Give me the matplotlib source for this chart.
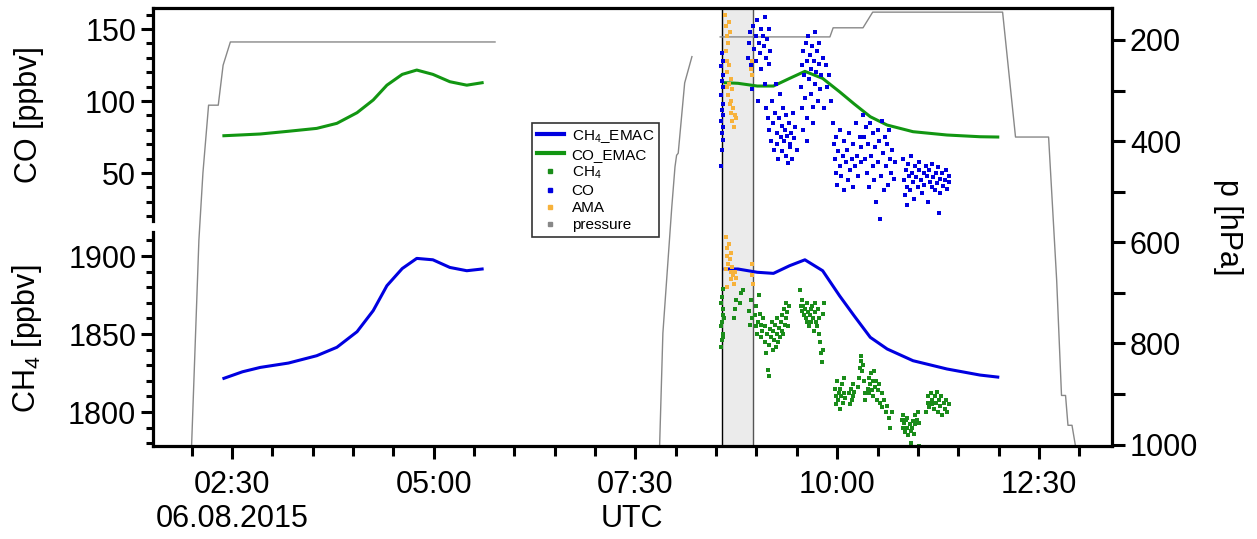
import matplotlib

matplotlib.use("Agg")
import matplotlib.pyplot as plt
from matplotlib.lines import Line2D
from matplotlib.ticker import MultipleLocator

plt.rcParams["font.family"] = ["Liberation Sans", "DejaVu Sans"]
plt.rcParams["mathtext.default"] = "regular"

NAN = float("nan")

# EMAC model curves (time in hours UTC)
emac_time_1 = [2.40, 2.63, 2.85, 3.20, 3.55, 3.80, 4.05, 4.25, 4.42, 4.61, 4.79, 4.99, 5.20, 5.41, 5.60]
co_emac_1 = [75.9, 76.5, 77.1, 79.0, 81.0, 84.5, 91.9, 100.7, 111.0, 118.5, 121.5, 118.5, 113.4, 111.0, 112.7]
ch4_emac_1 = [1821.6, 1825.8, 1828.6, 1831.4, 1836.1, 1841.5, 1851.5, 1865.0, 1881.0, 1892.0, 1898.5, 1897.6, 1892.7, 1890.6, 1891.7]

emac_time_2 = [8.61, 8.77, 9.01, 9.21, 9.41, 9.60, 9.82, 10.03, 10.21, 10.41, 10.62, 10.94, 11.36, 11.77, 11.99]
co_emac_2 = [112.7, 112.3, 110.4, 110.4, 115.7, 120.6, 115.7, 106.4, 98.0, 89.1, 83.3, 78.7, 76.4, 75.2, 75.0]
ch4_emac_2 = [1891.7, 1891.7, 1889.6, 1888.9, 1893.8, 1897.6, 1890.6, 1874.5, 1861.7, 1847.9, 1840.4, 1832.9, 1827.6, 1823.7, 1822.4]

# aircraft pressure (NaN = data gap)
p_time = [2.00, 2.09, 2.14, 2.21, 2.33, 2.39, 2.48, 5.76, NAN,
          7.80, 7.84, 7.95, 7.99, 8.01, 8.03, 8.11, 8.20, NAN,
          8.55, 9.91, 9.95, 10.32, 10.44, 12.05, 12.21, 12.62, 12.72, 12.78, 12.83, 12.86, 12.91, 12.95]
p_hpa = [1000, 596, 463, 329, 329, 250, 204, 204, NAN,
         1000, 780, 531, 451, 428, 424, 285, 233, NAN,
         194, 194, 176, 176, 145, 145, 392, 392, 675, 903, 903, 962, 962, 1000]

# in-situ CO (ppbv)
co_time = [
    8.56, 8.57, 8.58, 8.57, 8.59, 8.56, 8.58, 8.57, 8.59, 8.56, 8.58, 8.57, 8.59, 8.56, 8.58, 8.57,
    8.90, 8.91, 8.92, 8.93, 8.94, 8.95, 8.96, 8.97, 8.99, 9.00, 9.01, 9.02, 9.03, 9.04, 9.05, 9.06,
    9.08, 9.09, 9.10, 9.11, 9.12, 9.13, 9.15, 9.16, 9.17,
    9.12, 9.14, 9.16, 9.18, 9.19, 9.20, 9.22, 9.23, 9.24, 9.25, 9.26, 9.27, 9.28, 9.29, 9.30, 9.31,
    9.32, 9.33, 9.34, 9.35, 9.36, 9.37, 9.38, 9.39, 9.40, 9.41, 9.42, 9.43, 9.44, 9.45, 9.47, 9.48, 9.50,
    9.55, 9.56, 9.57, 9.58, 9.58, 9.59, 9.60, 9.61, 9.62, 9.62, 9.63, 9.64, 9.65, 9.66, 9.67, 9.68,
    9.69, 9.70, 9.70, 9.71, 9.72, 9.73, 9.74, 9.75, 9.76, 9.77, 9.78, 9.79, 9.80, 9.82, 9.84, 9.86,
    9.88, 9.90, 9.92,
    9.95, 9.96, 9.97, 9.98, 9.99, 10.00, 10.01, 10.03, 10.04, 10.05, 10.07, 10.08, 10.09, 10.11,
    10.12, 10.13, 10.15, 10.16, 10.18, 10.19, 10.20, 10.22, 10.23, 10.25, 10.26, 10.28, 10.29, 10.30,
    10.32, 10.33, 10.35, 10.36, 10.37, 10.38, 10.40, 10.41, 10.42, 10.44, 10.45, 10.46, 10.47, 10.48,
    10.50, 10.51, 10.52, 10.53, 10.54, 10.55, 10.57, 10.58, 10.59, 10.60, 10.62, 10.63, 10.64, 10.65,
    10.67, 10.68, 10.70, 10.72,
    10.82, 10.83, 10.84, 10.85, 10.86, 10.87, 10.88, 10.89, 10.90, 10.92, 10.93, 10.94, 10.95, 10.97,
    10.98, 11.00, 11.01, 11.02, 11.04, 11.05, 11.07, 11.08, 11.10, 11.11, 11.12, 11.14, 11.15, 11.17,
    11.18, 11.19, 11.21, 11.22, 11.24, 11.25, 11.26, 11.27, 11.28, 11.30, 11.31, 11.33, 11.35, 11.36,
    11.38, 11.39,
]
co_ppbv = [
    55, 66, 73, 78, 82, 86, 90, 94, 98, 104, 110, 114, 118, 124, 128, 133,
    130, 140, 148, 125, 108, 118, 152, 136, 145, 128, 156, 100, 140, 133, 150, 122,
    145, 138, 158, 112, 130, 143, 126, 150, 135,
    95, 88, 80, 72, 100, 85, 66, 92, 112, 78, 70, 60, 88, 105, 75, 83,
    65, 95, 72, 80, 62, 90, 76, 57, 85, 70, 68, 78, 60, 92, 74, 82, 66,
    110, 125, 95, 135, 80, 118, 102, 140, 128, 72, 88, 145, 115, 132, 105, 122,
    138, 96, 85, 128, 112, 148, 120, 135, 100, 126, 140, 108, 118, 130, 95, 125,
    110, 118, 100,
    85, 70, 60, 50, 75, 42, 65, 55, 80, 48, 62, 38, 72, 58,
    66, 45, 78, 52, 60, 40, 70, 55, 85, 62, 48, 75, 58, 68,
    90, 75, 60, 82, 50, 70, 40, 85, 62, 55, 78, 45, 68, 30,
    80, 58, 72, 18, 48, 86, 64, 38, 75, 55, 70, 42, 80, 60,
    50, 66, 46, 58,
    60, 45, 35, 52, 28, 40, 56, 48, 38, 62, 50, 44, 32, 55,
    47, 40, 58, 52, 45, 36, 50, 42, 55, 48, 30, 52, 44, 40,
    56, 47, 38, 50, 43, 54, 22, 36, 46, 50, 41, 45, 52, 39,
    48, 44,
]

# in-situ CH4 (ppbv)
ch4_time = [
    8.56, 8.57, 8.58, 8.56, 8.57, 8.59, 8.58, 8.56, 8.57, 8.58, 8.59, 8.60,
    8.72, 8.73, 8.74, 8.80, 8.81, 8.83, 8.91, 8.92, 8.93, 8.95,
    8.98, 8.99, 9.00, 9.01, 9.02, 9.03, 9.04, 9.05, 9.06, 9.07, 9.08, 9.10, 9.11, 9.12,
    9.13, 9.14, 9.15, 9.16, 9.17, 9.18, 9.19, 9.20, 9.21, 9.22, 9.23, 9.24, 9.25, 9.26,
    9.27, 9.28, 9.29, 9.30, 9.31, 9.32, 9.33, 9.34, 9.35, 9.36, 9.37, 9.38, 9.39, 9.40,
    9.54, 9.55, 9.56, 9.57, 9.58, 9.59, 9.60, 9.61, 9.62, 9.63, 9.64, 9.65, 9.66, 9.67,
    9.68, 9.69, 9.70, 9.71, 9.72, 9.73, 9.74, 9.75, 9.76, 9.77, 9.78, 9.79, 9.80, 9.81,
    9.82, 9.83, 9.84,
    9.97, 9.98, 9.99, 10.00, 10.01, 10.02, 10.03, 10.04, 10.05, 10.06, 10.07, 10.08, 10.09,
    10.10, 10.15, 10.16, 10.17, 10.18, 10.19, 10.20, 10.21,
    10.26, 10.27, 10.28, 10.29, 10.30, 10.31, 10.32, 10.33, 10.34, 10.35,
    10.38, 10.39, 10.40, 10.41, 10.42, 10.43, 10.44, 10.45, 10.46, 10.47, 10.48, 10.49,
    10.50, 10.52, 10.53, 10.55, 10.56, 10.58, 10.60, 10.62, 10.64, 10.66, 10.68,
    10.80, 10.81, 10.82, 10.83, 10.84, 10.85, 10.86, 10.87, 10.88, 10.90, 10.91, 10.92,
    10.93, 10.94, 10.95, 10.96, 10.97, 10.99, 11.00, 11.01, 11.02,
    11.10, 11.12, 11.13, 11.14, 11.16, 11.17, 11.18, 11.20, 11.21, 11.22, 11.24, 11.25,
    11.26, 11.28, 11.29, 11.30, 11.32, 11.33, 11.35, 11.36, 11.38,
]
ch4_ppbv = [
    1842, 1846, 1850, 1855, 1858, 1862, 1866, 1870, 1874, 1879, 1848, 1860,
    1860, 1866, 1872, 1870, 1876, 1878, 1865, 1856, 1872, 1860,
    1862, 1855, 1868, 1850, 1858, 1875, 1863, 1848, 1856, 1852, 1860, 1845, 1855, 1838,
    1850, 1827, 1823, 1843, 1853, 1848, 1858, 1840, 1852, 1846, 1856, 1842, 1850, 1860,
    1845, 1854, 1848, 1858, 1852, 1862, 1850, 1866, 1856, 1870, 1860, 1864, 1855, 1868,
    1878, 1868, 1872, 1865, 1868, 1862, 1866, 1860, 1870, 1858, 1864, 1855, 1862, 1866,
    1858, 1868, 1860, 1852, 1864, 1870, 1858, 1855, 1866, 1860, 1850, 1845, 1838, 1832,
    1840, 1863, 1870,
    1815, 1805, 1810, 1820, 1808, 1812, 1802, 1815, 1810, 1818, 1806, 1812, 1822,
    1809, 1812, 1805, 1815, 1808, 1818, 1810, 1813,
    1816, 1822, 1828, 1833, 1836, 1826, 1830, 1820, 1812, 1808,
    1815, 1822, 1812, 1818, 1825, 1814, 1820, 1810, 1826, 1816, 1820, 1808,
    1814, 1818, 1806, 1812, 1803, 1808, 1800, 1804, 1796, 1790, 1800,
    1795, 1790, 1798, 1793, 1787, 1795, 1790, 1796, 1785, 1792, 1788, 1780,
    1790, 1794, 1786, 1792, 1798, 1795, 1800, 1793, 1778,
    1800, 1806, 1810, 1803, 1812, 1805, 1808, 1802, 1810, 1806, 1813, 1800,
    1808, 1804, 1810, 1798, 1806, 1802, 1808, 1800, 1805,
]

# AMA instrument
ama_co_time = [8.61, 8.62, 8.63, 8.62, 8.64, 8.63, 8.65, 8.66, 8.64, 8.65, 8.66, 8.67, 8.68,
               8.69, 8.70, 8.71, 8.72, 8.73, 8.74, 8.70, 8.68, 8.93, 8.94, 8.95, 8.66, 8.67]
ama_co = [160, 152, 145, 135, 128, 120, 140, 125, 110, 104, 112, 98, 92,
          100, 86, 95, 82, 90, 88, 108, 115, 122, 128, 118, 155, 148]
ama_ch4_time = [8.62, 8.63, 8.64, 8.65, 8.66, 8.67, 8.68, 8.69, 8.70, 8.71, 8.72, 8.73,
                8.74, 8.64, 8.94, 8.95, 8.96, 8.68, 8.62]
ama_ch4 = [1912, 1905, 1900, 1895, 1908, 1898, 1890, 1885, 1893, 1888, 1882, 1890,
           1886, 1880, 1895, 1888, 1882, 1902, 1892]

shade_start, shade_end = 8.57, 8.96
x_ticks = [2.5, 5.0, 7.5, 10.0, 12.5]
x_ticklabels = ["02:30\n06.08.2015", "05:00", "07:30", "10:00", "12:30"]

BLUE = "#0000e0"
GREEN = "#129612"
ORANGE = "#f7b23b"
GRAY = "#888888"
FS = 22
MS = 2.8

fig = plt.figure(figsize=(12.57, 5.39), dpi=100)
left, width = 0.1217, 0.7629
ax_p = fig.add_axes([left, 0.1725, width, 0.8125])
ax_co = fig.add_axes([left, 0.5900, width, 0.3952])
ax_ch4 = fig.add_axes([left, 0.1725, width, 0.3970])

xlim = (1.521, 13.405)
for ax in (ax_p, ax_co, ax_ch4):
    ax.set_xlim(*xlim)
    for s in ax.spines.values():
        s.set_linewidth(2.3)

# pressure axis (background, full box)
ax_p.axvspan(shade_start, shade_end, color="#ebebeb", lw=0, zorder=0)
ax_p.axvline(shade_start, color="black", lw=1.0, zorder=1)
ax_p.axvline(shade_end, color="#555555", lw=1.0, zorder=1)
ax_p.plot(p_time, p_hpa, color=GRAY, lw=1.0, zorder=2)
ax_p.set_ylim(1003, 137)
ax_p.spines["left"].set_visible(False)
ax_p.spines["bottom"].set_visible(False)
ax_p.yaxis.tick_right()
ax_p.yaxis.set_label_position("right")
ax_p.set_yticks([200, 400, 600, 800, 1000])
ax_p.yaxis.set_minor_locator(MultipleLocator(100))
ax_p.set_xticks([])
ax_p.tick_params(axis="y", which="major", direction="out", length=9, width=2.2, labelsize=FS, pad=4)
ax_p.tick_params(axis="y", which="minor", direction="out", length=9, width=2.2)
ax_p.set_ylabel("p [hPa]", fontsize=FS, rotation=270, va="center", ha="center")
ax_p.yaxis.set_label_coords(1.121, 0.5)

# CO panel
ax_co.patch.set_visible(False)
ax_co.plot(emac_time_1, co_emac_1, color=GREEN, lw=2.2)
ax_co.plot(emac_time_2, co_emac_2, color=GREEN, lw=2.2)
ax_co.plot(co_time, co_ppbv, "s", color=BLUE, ms=MS, mew=0)
ax_co.plot(ama_co_time, ama_co, "s", color=ORANGE, ms=MS, mew=0)
ax_co.set_ylim(16.7, 164.6)
for side in ("top", "right", "bottom"):
    ax_co.spines[side].set_visible(False)
ax_co.set_xticks([])
ax_co.set_yticks([50, 100, 150])
ax_co.yaxis.set_minor_locator(MultipleLocator(10))
ax_co.set_ylabel("CO [ppbv]", fontsize=FS)
ax_co.yaxis.set_label_coords(-0.114, 0.5)

# CH4 panel
ax_ch4.patch.set_visible(False)
ax_ch4.plot(emac_time_1, ch4_emac_1, color=BLUE, lw=2.2)
ax_ch4.plot(emac_time_2, ch4_emac_2, color=BLUE, lw=2.2)
ax_ch4.plot(ch4_time, ch4_ppbv, "s", color="#1a8c1a", ms=MS, mew=0)
ax_ch4.plot(ama_ch4_time, ama_ch4, "s", color=ORANGE, ms=MS, mew=0)
ax_ch4.set_ylim(1778.2, 1915.4)
for side in ("top", "right"):
    ax_ch4.spines[side].set_visible(False)
ax_ch4.set_yticks([1800, 1850, 1900])
ax_ch4.yaxis.set_minor_locator(MultipleLocator(10))
ax_ch4.set_xticks(x_ticks)
ax_ch4.set_xticklabels(x_ticklabels)
ax_ch4.xaxis.set_minor_locator(MultipleLocator(0.5))
ax_ch4.set_ylabel("CH$_4$ [ppbv]", fontsize=FS)
ax_ch4.yaxis.set_label_coords(-0.114, 0.5)
ax_ch4.tick_params(axis="x", which="major", direction="out", length=9, width=2.2, labelsize=FS, pad=8)
ax_ch4.tick_params(axis="x", which="minor", direction="out", length=7, width=2.2)

for ax in (ax_co, ax_ch4):
    ax.tick_params(axis="y", which="major", direction="out", length=9, width=2.2, labelsize=FS, pad=3)
    ax.tick_params(axis="y", which="minor", direction="out", length=5, width=2.2)

fig.text(0.503, 0.037, "UTC", ha="center", va="center", fontsize=FS)

handles = [
    Line2D([], [], color=BLUE, lw=3),
    Line2D([], [], color=GREEN, lw=3),
    Line2D([], [], color="#1a8c1a", marker="s", ls="none", ms=3),
    Line2D([], [], color=BLUE, marker="s", ls="none", ms=3),
    Line2D([], [], color=ORANGE, marker="s", ls="none", ms=3),
    Line2D([], [], color=GRAY, marker="s", ls="none", ms=3),
]
labels = ["CH$_4$_EMAC", "CO_EMAC", "CH$_4$", "CO", "AMA", "pressure"]
leg = fig.legend(handles, labels, loc="upper left", bbox_to_anchor=(0.4232, 0.7718),
                 bbox_transform=fig.transFigure, fontsize=11, frameon=True, fancybox=False,
                 edgecolor="black", handlelength=1.8, handletextpad=0.5, labelspacing=0.2,
                 borderpad=0.3, borderaxespad=0)
leg.get_frame().set_linewidth(1.2)

fig.savefig("out.png", dpi=100)
